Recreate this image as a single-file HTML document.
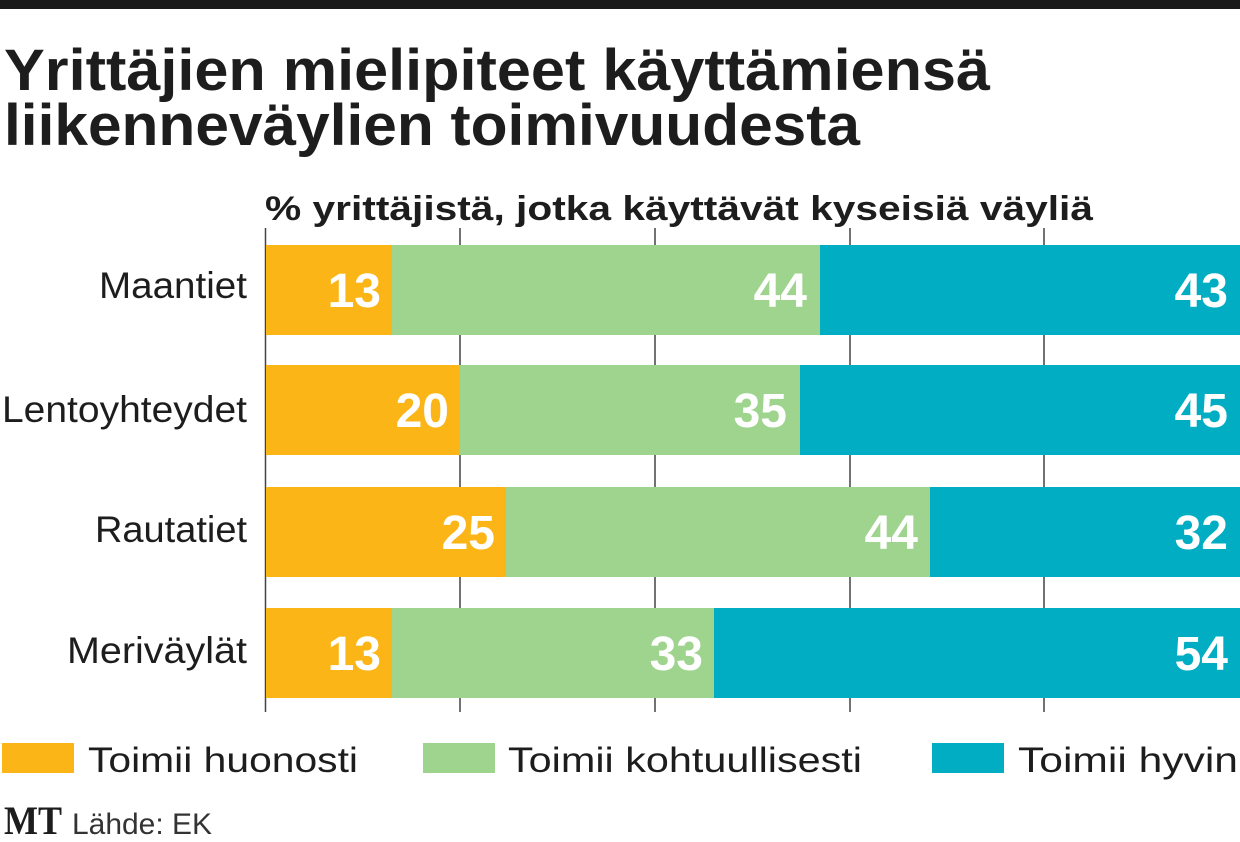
<!DOCTYPE html>
<html><head><meta charset="utf-8"><style>
html,body{margin:0;padding:0;background:#fff}
svg{display:block}
text{font-family:"Liberation Sans",sans-serif}
</style></head><body>
<svg width="1240" height="842" viewBox="0 0 1240 842">
<rect x="0" y="0" width="1240" height="9" fill="#1a1a1a"/>
<text x="4" y="90" font-size="58" font-weight="bold" fill="#1d1d1d" textLength="986" lengthAdjust="spacingAndGlyphs">Yrittäjien mielipiteet käyttämiensä</text>
<text x="4" y="145" font-size="58" font-weight="bold" fill="#1d1d1d" textLength="856" lengthAdjust="spacingAndGlyphs">liikenneväylien toimivuudesta</text>
<text x="265" y="220" font-size="34" font-weight="bold" fill="#1d1d1d" textLength="828" lengthAdjust="spacingAndGlyphs">% yrittäjistä, jotka käyttävät kyseisiä väyliä</text>
<g stroke="#444" stroke-width="1.5">
<line x1="265.5" y1="228" x2="265.5" y2="712"/>
<line x1="460" y1="228" x2="460" y2="712"/>
<line x1="655" y1="228" x2="655" y2="712"/>
<line x1="850" y1="228" x2="850" y2="712"/>
<line x1="1044" y1="228" x2="1044" y2="712"/>
</g>
<g font-size="37" fill="#1d1d1d" text-anchor="end">
<text x="247" y="298" textLength="148" lengthAdjust="spacingAndGlyphs">Maantiet</text>
<text x="247" y="422" textLength="245" lengthAdjust="spacingAndGlyphs">Lentoyhteydet</text>
<text x="247" y="542" textLength="152" lengthAdjust="spacingAndGlyphs">Rautatiet</text>
<text x="247" y="663" textLength="180" lengthAdjust="spacingAndGlyphs">Meriväylät</text>
</g>
<rect x="266" y="245" width="126" height="90" fill="#fbb516"/>
<rect x="392" y="245" width="428" height="90" fill="#9fd48f"/>
<rect x="820" y="245" width="420" height="90" fill="#00adc3"/>
<rect x="266" y="365" width="194" height="90" fill="#fbb516"/>
<rect x="460" y="365" width="340" height="90" fill="#9fd48f"/>
<rect x="800" y="365" width="440" height="90" fill="#00adc3"/>
<rect x="266" y="487" width="240" height="90" fill="#fbb516"/>
<rect x="506" y="487" width="424" height="90" fill="#9fd48f"/>
<rect x="930" y="487" width="310" height="90" fill="#00adc3"/>
<rect x="266" y="608" width="126" height="90" fill="#fbb516"/>
<rect x="392" y="608" width="322" height="90" fill="#9fd48f"/>
<rect x="714" y="608" width="526" height="90" fill="#00adc3"/>
<g font-size="48" font-weight="bold" fill="#fff" text-anchor="end">
<text x="381" y="307">13</text><text x="807" y="307">44</text><text x="1228" y="307">43</text>
<text x="449" y="427">20</text><text x="787" y="427">35</text><text x="1228" y="427">45</text>
<text x="495" y="549">25</text><text x="918" y="549">44</text><text x="1228" y="549">32</text>
<text x="381" y="670">13</text><text x="703" y="670">33</text><text x="1228" y="670">54</text>
</g>
<rect x="2" y="743" width="72" height="30" fill="#fbb516"/>
<rect x="423" y="743" width="72" height="30" fill="#9fd48f"/>
<rect x="932" y="743" width="72" height="30" fill="#00adc3"/>
<g font-size="35" fill="#1d1d1d">
<text x="88" y="772" textLength="270" lengthAdjust="spacingAndGlyphs">Toimii huonosti</text>
<text x="508" y="772" textLength="354" lengthAdjust="spacingAndGlyphs">Toimii kohtuullisesti</text>
<text x="1018" y="772" textLength="220" lengthAdjust="spacingAndGlyphs">Toimii hyvin</text>
</g>
<text x="4" y="834" style="font-family:'Liberation Serif',serif" font-weight="bold" font-size="40" fill="#1d1d1d" textLength="58" lengthAdjust="spacingAndGlyphs">MT</text>
<text x="72" y="834" font-size="30" fill="#333" textLength="140" lengthAdjust="spacingAndGlyphs">Lähde: EK</text>
</svg>
</body></html>
